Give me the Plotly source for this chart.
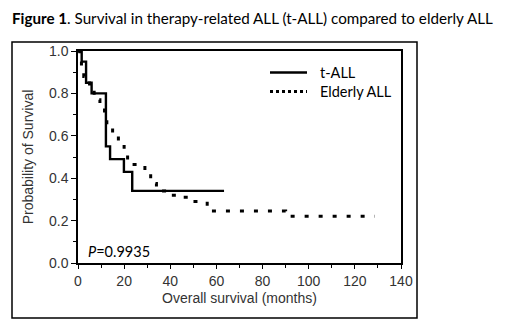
import plotly.graph_objects as go

# t-ALL Kaplan-Meier steps (months, survival probability)
tall_months = [0, 1.6, 3.5, 5.9, 12.1, 13.9, 19.9, 23.5, 63.3]
tall_surv = [1.0, 0.95, 0.85, 0.80, 0.55, 0.49, 0.43, 0.34, 0.34]

# Elderly ALL Kaplan-Meier steps
eld_months = [0, 0.8, 1.5, 2.5, 3.5, 5, 7, 9.5, 11.5, 12.5, 15, 17.5, 20, 21.5,
              29, 31.5, 34, 39, 44, 48, 56, 90, 128.7]
eld_surv = [1.0, 0.96, 0.92, 0.88, 0.86, 0.83, 0.77, 0.74, 0.69, 0.64, 0.60, 0.55,
            0.515, 0.465, 0.42, 0.375, 0.34, 0.32, 0.31, 0.29, 0.245, 0.22, 0.22]

x_ticks = [0, 20, 40, 60, 80, 100, 120, 140]
y_ticks = [0.0, 0.2, 0.4, 0.6, 0.8, 1.0]
y_tick_labels = ["0.0", "0.2", "0.4", "0.6", "0.8", "1.0"]

series_names = ["t-ALL", "Elderly ALL"]
title_bold = "Figure 1"
title_rest = ". Survival in therapy-related ALL (t-ALL) compared to elderly ALL"
p_text = "<i>P</i>=0.9935"

# page body has an 8px default margin; compensate so the picture lands where the reference is
OFF = 8
W, H = 512, 314
pw, ph = 323, 212
L, T = 78 - OFF, 51 - OFF
R, B = W - L - pw, H - T - ph

def px(xp):
    return (xp - 78) / pw

def py(yp):
    return (263 - yp) / ph

fig = go.Figure()
fig.add_trace(go.Scatter(x=tall_months, y=tall_surv, mode="lines", line_shape="hv",
                         line=dict(color="black", width=2.4), name=series_names[0],
                         showlegend=False))
fig.add_trace(go.Scatter(x=eld_months, y=eld_surv, mode="lines", line_shape="hv",
                         line=dict(color="black", width=3, dash="4px,10px"),
                         name=series_names[1], showlegend=False))

axis_font = dict(family="Liberation Sans, Arial", size=14, color="#333")

fig.update_xaxes(range=[0, 140], tickvals=x_ticks, ticktext=[str(v) for v in x_ticks],
                 automargin=False,
                 showgrid=False, zeroline=False, showline=True, linecolor="black",
                 linewidth=1.5, mirror=True, ticks="outside", ticklen=4, tickwidth=1.3,
                 tickcolor="black", tickfont=axis_font,
                 minor=dict(dtick=10, tick0=0, ticks="outside", ticklen=3, tickwidth=1.3,
                            tickcolor="black", showgrid=False),
                 title=dict(text="Overall survival (months)", font=axis_font, standoff=6))
fig.update_yaxes(range=[0, 1.0], tickvals=y_ticks, ticktext=y_tick_labels,
                 automargin=False,
                 showgrid=False, zeroline=False, showline=True, linecolor="black",
                 linewidth=1.5, mirror=True, ticks="outside", ticklen=5, tickwidth=1.3,
                 tickcolor="black", tickfont=axis_font,
                 minor=dict(dtick=0.1, tick0=0, ticks="outside", ticklen=3, tickwidth=1.3,
                            tickcolor="black", showgrid=False),
                 title=dict(text="Probability of Survival", font=axis_font, standoff=12))

label_font = dict(family="Lato, Open Sans, sans-serif", size=14.5, color="black")

shapes = [
    # outer frame
    dict(type="rect", xref="paper", yref="paper", x0=px(12), x1=px(417), y0=py(318), y1=py(42),
         line=dict(color="black", width=1.5)),
    # legend samples
    dict(type="line", xref="paper", yref="paper", x0=px(270), x1=px(307), y0=py(72.5), y1=py(72.5),
         line=dict(color="black", width=2.6)),
    dict(type="line", xref="paper", yref="paper", x0=px(270), x1=px(307), y0=py(91.5), y1=py(91.5),
         line=dict(color="black", width=3, dash="3px,3px")),
]

annotations = [
    dict(text=series_names[0], xref="paper", yref="paper", x=px(318), y=py(72.5),
         xanchor="left", yanchor="middle", showarrow=False, font=label_font),
    dict(text=series_names[1], xref="paper", yref="paper", x=px(318), y=py(91.5),
         xanchor="left", yanchor="middle", showarrow=False, font=label_font),
    dict(text=p_text, xref="paper", yref="paper", x=px(86), y=py(251),
         xanchor="left", yanchor="middle", showarrow=False, font=label_font),
]

fig.update_layout(
    width=W, height=H, margin=dict(l=L, r=R, t=T, b=B),
    paper_bgcolor="white", plot_bgcolor="white",
    title=dict(text=f"<b>{title_bold}</b>{title_rest}", x=(12 - OFF) / W, xanchor="left",
               xref="container", y=1 - 11 / H, yanchor="middle", yref="container",
               font=dict(family="Lato, Open Sans, sans-serif", size=15.2, color="black")),
    shapes=shapes, annotations=annotations,
)

fig.write_html("out.html")
